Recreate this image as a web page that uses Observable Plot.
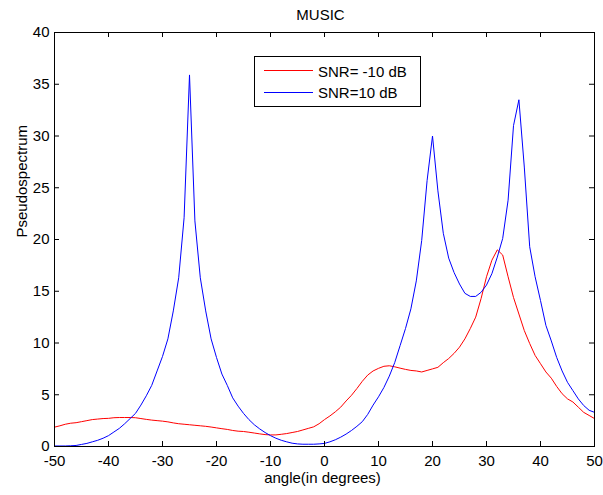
<!DOCTYPE html>
<html><head><meta charset="utf-8">
<script src="https://cdn.jsdelivr.net/npm/d3@7"></script>
<script src="https://cdn.jsdelivr.net/npm/@observablehq/plot@0.6"></script>
<style>
body{margin:0;background:#fff;}
#wrap{position:relative;width:603px;height:495px;font-family:"Liberation Sans",Arial,Helvetica,sans-serif;color:#000;}
#legend{position:absolute;left:254px;top:56px;width:165px;height:49px;border:1px solid #000;background:#fff;font-size:15px;}
.row{position:absolute;left:0;height:18px;line-height:18px;white-space:nowrap;}
.sw{position:absolute;left:9px;width:49px;height:1px;}
.lab{position:absolute;left:63px;top:0;}
</style></head><body><div id="wrap"></div>
<script>
const angles = [-50,-49,-48,-47,-46,-45,-44,-43,-42,-41,-40,-39,-38,-37,-36,-35,-34,-33,-32,-31,-30,-29,-28,-27,-26,-25,-24,-23,-22,-21,-20,-19,-18,-17,-16,-15,-14,-13,-12,-11,-10,-9,-8,-7,-6,-5,-4,-3,-2,-1,0,1,2,3,4,5,6,7,8,9,10,11,12,13,14,15,16,17,18,19,20,21,22,23,24,25,26,27,28,29,30,31,32,33,34,35,36,37,38,39,40,41,42,43,44,45,46,47,48,49,50];
const lowSnr = [1.87,2.0,2.15,2.25,2.3,2.4,2.5,2.6,2.65,2.7,2.72,2.78,2.8,2.8,2.8,2.78,2.7,2.62,2.55,2.5,2.45,2.38,2.28,2.2,2.15,2.1,2.05,2.0,1.95,1.88,1.8,1.72,1.65,1.55,1.48,1.45,1.38,1.3,1.22,1.15,1.12,1.12,1.18,1.25,1.35,1.45,1.6,1.75,1.9,2.2,2.6,2.95,3.35,3.8,4.4,4.95,5.6,6.3,6.9,7.3,7.55,7.75,7.8,7.7,7.57,7.45,7.35,7.3,7.2,7.35,7.5,7.65,8.1,8.5,9.0,9.6,10.4,11.4,12.5,14.3,16.4,18.0,19.0,18.5,16.4,14.4,12.8,11.2,9.95,8.8,8.0,7.2,6.6,5.8,5.1,4.6,4.3,3.8,3.3,3.0,2.7];
const highSnr = [0.05,0.05,0.05,0.07,0.1,0.2,0.3,0.45,0.6,0.8,1.05,1.4,1.75,2.2,2.7,3.2,4.0,4.9,5.9,7.3,8.7,10.4,13.1,16.3,22.1,35.9,21.8,16.3,13.1,10.4,8.6,7.0,5.9,4.7,3.9,3.2,2.6,2.1,1.7,1.35,1.05,0.8,0.6,0.45,0.32,0.25,0.22,0.22,0.22,0.25,0.3,0.45,0.65,0.9,1.2,1.55,1.95,2.4,3.1,4.0,4.8,5.7,6.8,8.1,9.75,11.4,13.3,16.0,19.9,25.7,30.0,24.7,20.6,18.2,16.8,15.7,14.8,14.5,14.5,14.9,15.6,16.7,18.3,20.1,23.8,31.0,33.5,27.0,19.3,16.4,14.1,11.7,10.2,8.6,7.3,6.2,5.4,4.6,3.96,3.5,3.3];
const seriesNames = ["SNR= -10 dB", "SNR=10 dB"];
const seriesColors = ["#ff0000", "#0000ff"];
const xTicks = [-50,-40,-30,-20,-10,0,10,20,30,40,50];
const yTicks = [0,5,10,15,20,25,30,35,40];
const titleText = "MUSIC";
const xLabel = "angle(in degrees)";
const yLabel = "Pseudospectrum";

const series = [lowSnr, highSnr];
const data = [];
series.forEach((vals, s) => angles.forEach((a, i) => data.push({angle: a, value: vals[i], series: seriesNames[s]})));

const W = 603, H = 495, mL = 54, mR = 9, mT = 32, mB = 49, tickLen = 5;
const frameW = W - mL - mR, frameH = H - mT - mB;
const fmt = d => String(d);
const tk = {stroke: "#000", strokeWidth: 1};

const chart = Plot.plot({
  width: W, height: H,
  marginLeft: mL, marginRight: mR, marginTop: mT, marginBottom: mB,
  style: {fontFamily: '"Liberation Sans",Arial,Helvetica,sans-serif', fontSize: "15px", color: "#000", background: "#fff", overflow: "visible"},
  x: {domain: [-50, 50]},
  y: {domain: [0, 40]},
  color: {domain: seriesNames, range: seriesColors},
  marks: [
    Plot.line(data, {x: "angle", y: "value", z: "series", stroke: "series", strokeWidth: 1}),
    Plot.tickX(xTicks, {...tk, x: d => d, insetTop: frameH - tickLen}),
    Plot.tickX(xTicks, {...tk, x: d => d, insetBottom: frameH - tickLen}),
    Plot.tickY(yTicks, {...tk, y: d => d, insetRight: frameW - tickLen}),
    Plot.tickY(yTicks, {...tk, y: d => d, insetLeft: frameW - tickLen}),
    Plot.frame({stroke: "#000", strokeWidth: 1}),
    Plot.axisX({anchor: "bottom", ticks: xTicks, tickFormat: fmt, tickSize: 0, tickPadding: 9, label: null}),
    Plot.axisY({anchor: "left", ticks: yTicks, tickFormat: fmt, tickSize: 0, tickPadding: 5, label: null}),
    Plot.text([titleText], {text: d => d, frameAnchor: "top", lineAnchor: "bottom", dy: -12.7, dx: -4}),
    Plot.text([xLabel], {text: d => d, frameAnchor: "bottom", lineAnchor: "bottom", dy: 36.5, dx: -2}),
    Plot.text([yLabel], {text: d => d, frameAnchor: "left", rotate: -90, lineAnchor: "middle", dx: -32, dy: -2})
  ]
});
const wrap = document.getElementById("wrap");
wrap.appendChild(chart);

const legend = document.createElement("div");
legend.id = "legend";
const lineCenters = [13.7, 35.3];
const textCenters = [15, 36.3];
seriesNames.forEach((name, i) => {
  const sw = document.createElement("div");
  sw.className = "sw";
  sw.style.top = (lineCenters[i] - 0.5) + "px";
  sw.style.background = seriesColors[i];
  legend.appendChild(sw);
  const row = document.createElement("div");
  row.className = "row";
  row.style.top = (textCenters[i] - 9) + "px";
  const lab = document.createElement("span");
  lab.className = "lab";
  lab.textContent = name;
  row.appendChild(lab);
  legend.appendChild(row);
});
wrap.appendChild(legend);
</script></body></html>
